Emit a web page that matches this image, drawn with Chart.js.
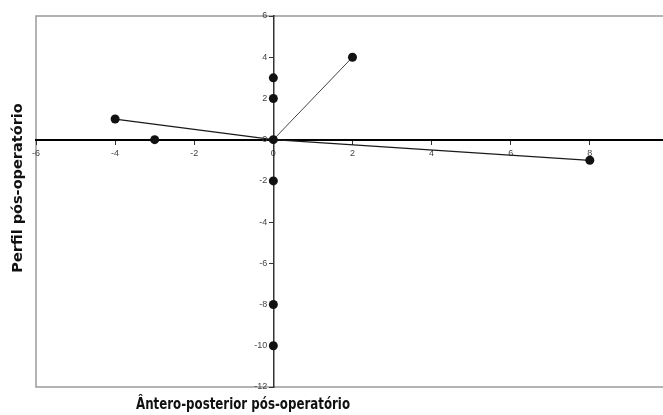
<!DOCTYPE html>
<html>
<head>
<meta charset="utf-8">
<script src="https://cdn.jsdelivr.net/npm/chart.js@4"></script>
<style>
  body { margin: 0; background: #fff; }
  #wrap { width: 663px; height: 415px; position: relative; }
</style>
</head>
<body>
<div id="wrap"><canvas id="dispChart" width="663" height="415"></canvas></div>
<script>
// data
const pointsX = [-4, -3, 0, 0, 0, 2, 0, 8, 0, 0];
const pointsY = [1, 0, 3, 2, 0, 4, -2, -1, -8, -10];

const lineAX = [-4, 0];
const lineAY = [1, 0];
const lineBX = [0, 2];
const lineBY = [0, 4];
const lineCX = [0, 8];
const lineCY = [0, -1];

const xTicks = [-6, -4, -2, 0, 2, 4, 6, 8];
const yTicks = [6, 4, 2, 0, -2, -4, -6, -8, -10, -12];

const xTitle = "Ântero-posterior pós-operatório";
const yTitle = "Perfil pós-operatório";

const toXY = (xs, ys) => xs.map((x, i) => ({ x: x, y: ys[i] }));
const tickFont = "9px 'Liberation Sans', Arial, sans-serif";

// grey frame, y labels left of the crossing axis, axis titles
const framePlugin = {
  id: "frame",
  beforeDraw(chart) {
    const { ctx, chartArea: a } = chart;
    ctx.save();
    ctx.strokeStyle = "#9a9a9a";
    ctx.lineWidth = 1.5;
    ctx.beginPath();
    ctx.moveTo(a.right + 2, a.top);
    ctx.lineTo(a.left, a.top);
    ctx.lineTo(a.left, a.bottom);
    ctx.lineTo(a.right + 2, a.bottom);
    ctx.stroke();
    ctx.restore();
  },
  afterDraw(chart) {
    const ctx = chart.ctx;
    const xs = chart.scales.x, ys = chart.scales.y;
    const x0 = xs.getPixelForValue(0);
    ctx.save();
    ctx.fillStyle = "#444";
    ctx.font = tickFont;
    ctx.textAlign = "right";
    ctx.textBaseline = "middle";
    yTicks.forEach(v => ctx.fillText(String(v), x0 - 6, ys.getPixelForValue(v)));

    ctx.fillStyle = "#111";
    ctx.textAlign = "center";
    ctx.font = "bold 15px 'Liberation Sans Narrow', 'DejaVu Sans Condensed', sans-serif";
    const w = ctx.measureText(xTitle).width;
    ctx.save();
    ctx.translate(243, 405);
    ctx.scale(214 / w, 1);
    ctx.fillText(xTitle, 0, 0);
    ctx.restore();

    ctx.translate(18, 188);
    ctx.rotate(-Math.PI / 2);
    ctx.font = "bold 14.5px 'DejaVu Sans', sans-serif";
    ctx.fillText(yTitle, 0, 0);
    ctx.restore();
  }
};

const noSpace = s => {
  if (s.isHorizontal()) s.height = 0; else s.width = 0;
  s.paddingLeft = 0; s.paddingRight = 0;
  s.paddingTop = 0; s.paddingBottom = 0;
};

const lineStyle = {
  showLine: true,
  pointRadius: 0,
  borderColor: "#1a1a1a",
  borderWidth: 1.3,
  fill: false
};

new Chart(document.getElementById("dispChart"), {
  type: "scatter",
  data: {
    datasets: [
      {
        data: toXY(pointsX, pointsY),
        pointRadius: 4.5,
        pointBackgroundColor: "#111",
        pointBorderColor: "#111",
        pointBorderWidth: 0,
        showLine: false
      },
      Object.assign({ data: toXY(lineAX, lineAY) }, lineStyle),
      Object.assign({ data: toXY(lineBX, lineBY) }, lineStyle, { borderColor: "#444", borderWidth: 1 }),
      Object.assign({ data: toXY(lineCX, lineCY) }, lineStyle)
    ]
  },
  options: {
    responsive: false,
    animation: false,
    layout: { autoPadding: false, padding: { left: 36, top: 16, right: 0, bottom: 28 } },
    plugins: { legend: { display: false }, tooltip: { enabled: false } },
    scales: {
      x: {
        type: "linear",
        min: -6,
        max: 9.85,
        position: { y: 0 },
        afterFit: noSpace,
        afterBuildTicks: s => { s.ticks = xTicks.map(v => ({ value: v })); },
        border: { display: true, color: "#000", width: 2 },
        grid: { drawOnChartArea: false, drawTicks: true, tickLength: 4, tickColor: "#333" },
        ticks: { color: "#444", font: { size: 9, family: "'Liberation Sans', Arial, sans-serif" }, padding: 4, maxRotation: 0 }
      },
      y: {
        type: "linear",
        min: -12,
        max: 6,
        position: { x: 0 },
        afterFit: noSpace,
        afterBuildTicks: s => { s.ticks = yTicks.map(v => ({ value: v })); },
        border: { display: true, color: "#333", width: 1.5 },
        grid: { drawOnChartArea: false, drawTicks: true, tickLength: 4, tickColor: "#333" },
        ticks: { display: false }
      }
    }
  },
  plugins: [framePlugin]
});
</script>
</body>
</html>
